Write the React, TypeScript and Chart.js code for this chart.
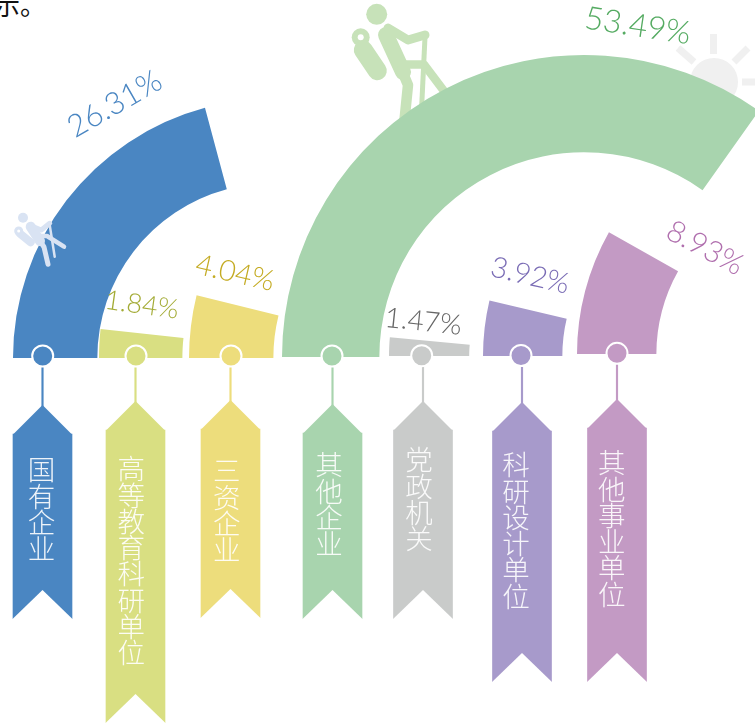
import React, { useEffect, useRef } from "react";
import { Chart, registerables } from "chart.js";

Chart.register(...registerables);

// ---------- data ----------
const categories = ["国有企业", "高等教育科研单位", "三资企业", "其他企业", "党政机关", "科研设计单位", "其他事业单位"];
const shares = [26.31, 1.84, 4.04, 53.49, 1.47, 3.92, 8.93];
const colors = ["#4a86c2", "#d9df82", "#eddd7c", "#a8d4ae", "#c9cbca", "#a79acb", "#c39ac4"];
const textColors = ["#4a86c2", "#a3ab35", "#c4ab22", "#55ab62", "#666666", "#7a6cb5", "#b06fae"];

// ---------- layout ----------
const arcCx = [272, 367, 452, 584, 591, 724, 825];
const arcCy = [358, 358, 358, 357, 355.5, 355.5, 353.5];
const arcOuter = [259, 268, 263, 302, 202, 241, 248];
const arcInner = [176, 186, 180, 206, 123, 163, 170];
const arcSweep = [75, 6.2, 13.8, 125.4, 5.3, 13.3, 29.4];

const dotX = [42.7, 136, 231, 332, 421.7, 521, 617];
const dotY = [356, 356, 356, 356, 355.7, 355.5, 353.3];
const ribbonX = [42.5, 135.5, 230.5, 332.5, 423, 522, 617];
const ribbonTip = [405, 401, 400, 404, 401, 402, 399];
const ribbonBottom = [619, 723, 618, 619, 619, 682, 682];
const textX = [41.5, 131.3, 226.7, 329, 419, 516, 611.7];
const textTop = [456, 455, 457, 451, 446, 451, 448.5];

const pctX = [114.7, 141.7, 235, 637.7, 423.3, 530, 705];
const pctY = [104, 305, 273, 26, 321.7, 275.7, 248];
const pctRot = [-30, 8, 13, 8.5, 6, 13, 28];
const pctSize = [31, 27, 29, 32, 28, 29, 30];

const TAIL = 29;
const HALF = 29.5;

const ribbonPlugin = {
  id: "ribbonPlugin",
  afterDatasetsDraw(chart: any) {
    const ctx = chart.ctx;
    const meta = chart.getDatasetMeta(1);
    meta.data.forEach((bar: any, i: number) => {
      const top = Math.min(bar.y, bar.base);
      const bottom = Math.max(bar.y, bar.base);
      ctx.save();
      ctx.fillStyle = colors[i];
      ctx.beginPath();
      ctx.moveTo(bar.x - HALF, top + 0.5);
      ctx.lineTo(bar.x, top - TAIL);
      ctx.lineTo(bar.x + HALF, top + 0.5);
      ctx.closePath();
      ctx.fill();
      ctx.fillStyle = "#ffffff";
      ctx.beginPath();
      ctx.moveTo(bar.x - HALF - 1, bottom + 1);
      ctx.lineTo(bar.x + HALF + 1, bottom + 1);
      ctx.lineTo(bar.x + HALF + 1, bottom + 0.5);
      ctx.lineTo(bar.x, bottom - TAIL);
      ctx.lineTo(bar.x - HALF - 1, bottom + 0.5);
      ctx.closePath();
      ctx.fill();
      ctx.restore();
    });
    shares.forEach((s, i) => {
      ctx.save();
      ctx.translate(pctX[i], pctY[i]);
      ctx.rotate((pctRot[i] * Math.PI) / 180);
      ctx.font = `300 ${pctSize[i]}px Lato, "Open Sans", sans-serif`;
      ctx.fillStyle = textColors[i];
      ctx.textAlign = "center";
      ctx.textBaseline = "middle";
      ctx.fillText(`${s.toFixed(2)}%`, 0, 0);
      ctx.restore();
    });
  },
};

function ArcChart({ index }: { index: number }) {
  const ref = useRef<HTMLCanvasElement>(null);
  const half = arcOuter[index] + 2;
  useEffect(() => {
    const share = shares[index];
    const fullScale = (share * 360) / arcSweep[index];
    const chart = new Chart(ref.current!, {
      type: "doughnut",
      data: {
        labels: [categories[index], ""],
        datasets: [
          {
            data: [share, fullScale - share],
            backgroundColor: [colors[index], "rgba(0,0,0,0)"],
            borderWidth: 0,
          },
        ],
      },
      options: {
        responsive: false,
        animation: false,
        events: [],
        rotation: -90,
        circumference: 360,
        radius: arcOuter[index],
        cutout: arcInner[index],
        layout: { padding: 0 },
        plugins: { legend: { display: false }, tooltip: { enabled: false } },
      },
    } as any);
    return () => chart.destroy();
  }, [index]);
  return (
    <canvas
      ref={ref}
      width={half * 2}
      height={half * 2}
      style={{ position: "absolute", left: Math.round(arcCx[index] - half), top: Math.round(arcCy[index] - half) }}
    />
  );
}

function OverlayChart() {
  const ref = useRef<HTMLCanvasElement>(null);
  useEffect(() => {
    const chart = new Chart(ref.current!, {
      type: "bar",
      data: {
        datasets: [
          {
            type: "bar",
            order: 3,
            grouped: false,
            barThickness: 1.5,
            data: dotX.map((x, i) => ({ x: ribbonX[i], y: [dotY[i], ribbonTip[i] + 2] })),
            backgroundColor: colors,
            borderWidth: 0,
          },
          {
            type: "bar",
            order: 2,
            grouped: false,
            barThickness: HALF * 2,
            data: ribbonX.map((x, i) => ({ x, y: [ribbonTip[i] + TAIL, ribbonBottom[i]] })),
            backgroundColor: colors,
            borderWidth: 0,
          },
          {
            type: "scatter",
            order: 1,
            data: dotX.map((x, i) => ({ x, y: dotY[i] })),
            backgroundColor: colors,
            borderColor: "#ffffff",
            borderWidth: 2,
            pointRadius: 10.5,
            clip: false,
          },
        ],
      },
      options: {
        responsive: false,
        animation: false,
        events: [],
        layout: { padding: 0, autoPadding: false },
        scales: {
          x: { type: "linear", min: 0, max: 755, display: false, offset: false, grid: { offset: false } },
          y: { type: "linear", min: 0, max: 724, reverse: true, display: false, offset: false },
        },
        plugins: { legend: { display: false }, tooltip: { enabled: false } },
      },
      plugins: [ribbonPlugin],
    } as any);
    return () => chart.destroy();
  }, []);
  return <canvas ref={ref} width={755} height={724} style={{ position: "absolute", left: 0, top: 0 }} />;
}

const svgStyle: React.CSSProperties = { position: "absolute", left: 0, top: 0 };

function BackIcons() {
  const g = "#c7e2b9";
  const s = "#f0f0f0";
  return (
    <svg width={755} height={724} style={svgStyle}>
      <circle cx={714} cy={82} r={24} fill={s} />
      <g stroke={s} strokeWidth={7} fill="none">
        <path d="M713.5 34V54M678 48L694 62M748 48L734 62M742 82H755" />
      </g>
      <circle cx={376.7} cy={14.3} r={10.5} fill={g} />
      <circle cx={360.7} cy={37.3} r={9} fill={g} />
      <g fill="none" stroke={g} strokeLinejoin="round">
        <path d="M363.3 50L377.3 70.7" strokeWidth={19} strokeLinecap="round" />
        <path d="M386 35L403 72" strokeWidth={16} strokeLinecap="round" />
        <path d="M400 66L408 85L404 125" strokeWidth={10.5} />
        <path d="M388 28L408 40L425 35" strokeWidth={9} strokeLinecap="round" />
        <path d="M400 64.5H424L447 95" strokeWidth={8.5} />
        <path d="M425 37L421.5 110" strokeWidth={5} />
      </g>
      <circle cx={360.7} cy={37.3} r={3} fill="#ffffff" />
    </svg>
  );
}

function FrontIcons() {
  const b = "#d9e3f3";
  return (
    <svg width={755} height={724} style={svgStyle}>
      <circle cx={23} cy={217.7} r={5} fill={b} />
      <circle cx={18.7} cy={231} r={4.5} fill={b} />
      <g fill="none" stroke={b} strokeLinecap="round" strokeLinejoin="round">
        <path d="M19.7 233.3L30.7 242.3" strokeWidth={8} />
        <path d="M30.7 226.7L40 241" strokeWidth={10} />
        <path d="M40 241L44 247L48 264.3" strokeWidth={5} />
        <path d="M31 225.7L41.3 230L49.7 223.3" strokeWidth={5} />
        <path d="M41 236L47 236L64 246.7" strokeWidth={4.5} />
        <path d="M49.7 225L54.7 256.7" strokeWidth={2.5} />
      </g>
      <circle cx={18.7} cy={231} r={1.5} fill="#ffffff" />
    </svg>
  );
}

export default function App() {
  return (
    <div style={{ position: "fixed", left: 0, top: 0, width: 755, height: 724, overflow: "hidden", background: "#fff" }}>
      <span
        style={{
          position: "absolute",
          left: -6,
          top: -14,
          fontFamily: '"Noto Sans CJK SC", sans-serif',
          fontSize: 26,
          lineHeight: "36px",
          color: "#111",
        }}
      >
        示。
      </span>
      <BackIcons />
      {shares.map((_, i) => (
        <ArcChart key={i} index={i} />
      ))}
      <OverlayChart />
      <FrontIcons />
      {categories.map((c, i) => (
        <div
          key={c}
          style={{
            position: "absolute",
            left: textX[i] - 15,
            top: textTop[i],
            width: 30,
            writingMode: "vertical-rl",
            textOrientation: "upright",
            fontFamily: '"Noto Sans CJK SC", sans-serif',
            fontWeight: 300,
            fontSize: 27.5,
            letterSpacing: -1.2,
            lineHeight: "30px",
            color: "rgba(255,255,255,0.9)",
            whiteSpace: "nowrap",
          }}
        >
          {c}
        </div>
      ))}
    </div>
  );
}
